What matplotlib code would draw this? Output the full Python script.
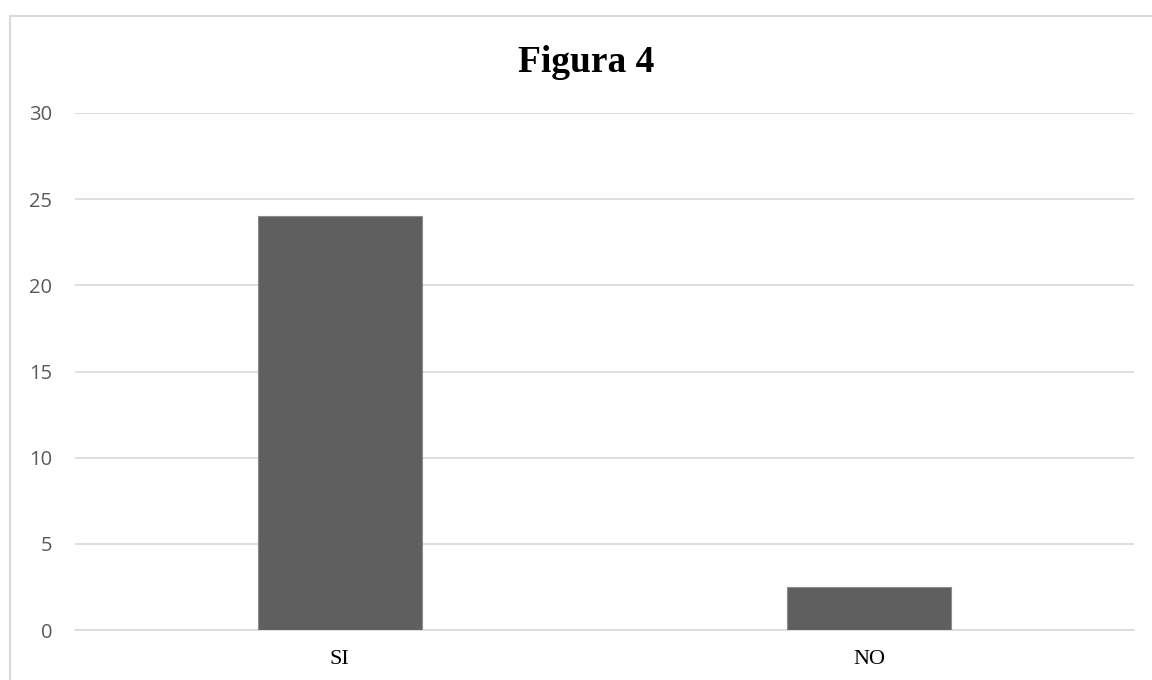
import matplotlib
matplotlib.use("Agg")
import matplotlib.pyplot as plt
from matplotlib.patches import Rectangle

categories = ["SI", "NO"]
values = [24, 2.5]
yticks = [0, 5, 10, 15, 20, 25, 30]
title = "Figura 4"

W, H = 1152, 680
fig = plt.figure(figsize=(W / 100, H / 100), dpi=100)
ax = fig.add_axes([75 / W, (H - 630) / H, (1134 - 75) / W, (630 - 113) / H])

x = list(range(len(categories)))
ax.bar(x, values, width=0.31, color="#5f5f5f", edgecolor="#8c8c8c", linewidth=0.8, zorder=3)
ax.set_xlim(-0.5, len(categories) - 0.5)
ax.set_ylim(0, 30)
ax.set_yticks(yticks)
ax.set_yticklabels([str(t) for t in yticks], fontfamily="Open Sans", fontsize=14.5, color="#595959")
ax.set_xticks(x)
ax.set_xticklabels(categories, fontfamily="Liberation Serif", fontsize=16, color="black")
ax.tick_params(axis="y", length=0, pad=16.5)
ax.tick_params(axis="x", length=0, pad=14.5)
ax.grid(axis="y", color="#d9d9d9", linewidth=1.2, zorder=0)
for s in ["top", "right", "left"]:
    ax.spines[s].set_visible(False)
ax.spines["bottom"].set_color("#d9d9d9")
ax.spines["bottom"].set_linewidth(1.2)

fig.text(586 / W, 1 - 72 / H, title, ha="center", va="baseline",
         fontfamily="Liberation Serif", fontweight="bold", fontsize=27)

fig.patches.append(Rectangle((10 / W, -0.05), 1.2, 1 - 16 / H + 0.05, transform=fig.transFigure,
                             fill=False, edgecolor="#d9d9d9", linewidth=1.5, zorder=0))

fig.savefig("out.png", dpi=100)
